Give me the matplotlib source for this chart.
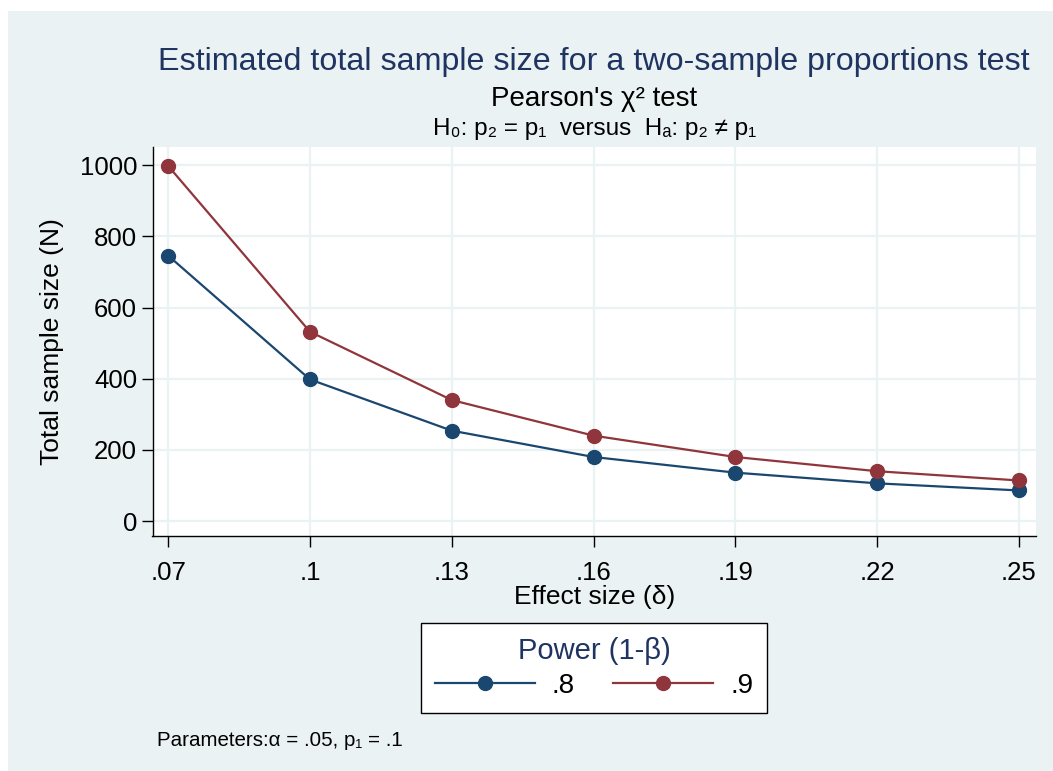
import matplotlib
matplotlib.use("Agg")
import matplotlib.pyplot as plt
from matplotlib.patches import Rectangle

plt.rcParams['font.family'] = ['Liberation Sans', 'DejaVu Sans']

# effect size (delta) and total sample size for each power level
delta = [0.07, 0.10, 0.13, 0.16, 0.19, 0.22, 0.25]
delta_labels = [".07", ".1", ".13", ".16", ".19", ".22", ".25"]
n_power_08 = [746, 398, 254, 180, 136, 106, 86]
n_power_09 = [998, 532, 340, 240, 180, 140, 114]
y_ticks = [0, 200, 400, 600, 800, 1000]
series_labels = [".8", ".9"]

BG = "#eaf2f3"
NAVY = "#1a476f"
MAROON = "#90353b"
TITLE_COL = "#1f3461"

W, H = 1053, 771
fig = plt.figure(figsize=(W / 100, H / 100), dpi=100)
fig.patch.set_facecolor("white")
# outer graph region (white strip on top and left)
fig.patches.append(Rectangle((8 / W, 0), 1 - 8 / W, 1 - 11 / H,
                             transform=fig.transFigure, facecolor=BG,
                             edgecolor="none", zorder=-10))

left, right = 152.5 / W, 1036 / W
bottom, top = 1 - 536 / H, 1 - 147 / H
ax = fig.add_axes([left, bottom, right - left, top - bottom])
ax.set_facecolor("white")

ax.plot(delta, n_power_08, color=NAVY, lw=1.6, marker="o", ms=10,
        label=series_labels[0], zorder=3)
ax.plot(delta, n_power_09, color=MAROON, lw=1.6, marker="o", ms=10,
        label=series_labels[1], zorder=3)

ax.set_xlim(0.0667, 0.2536)
ax.set_ylim(-42, 1051)
ax.set_xticks(delta)
ax.set_xticklabels(delta_labels)
ax.set_yticks(y_ticks)
ax.tick_params(axis="both", labelsize=18.5, length=8, width=1, color="black")
ax.tick_params(axis="y", pad=3)
ax.tick_params(axis="x", pad=10)
ax.grid(True, color=BG, lw=1.6, zorder=0)
ax.set_axisbelow(True)
for side in ("top", "right"):
    ax.spines[side].set_visible(False)
for side in ("left", "bottom"):
    ax.spines[side].set_linewidth(1)

ax.set_ylabel("Total sample size (N)", fontsize=19, labelpad=11)
ax.set_xlabel("Effect size (δ)", fontsize=19, labelpad=0)

cx = (left + right) / 2
fig.text(cx, 1 - 62 / H, "Estimated total sample size for a two-sample proportions test",
         ha="center", va="center", fontsize=23.2, color=TITLE_COL)
fig.text(cx, 1 - 99 / H, "Pearson's χ² test", ha="center", va="center",
         fontsize=20, color="black")
fig.text(cx, 1 - 129 / H, "H₀: p₂ = p₁  versus  Hₐ: p₂ ≠ p₁", ha="center",
         va="center", fontsize=17.5, color="black")

leg = ax.legend(loc="center", bbox_to_anchor=(594 / W, 1 - 668 / H),
                bbox_transform=fig.transFigure, ncol=2, numpoints=1,
                title="Power (1-β)", fontsize=20, title_fontsize=21,
                frameon=True, fancybox=False, edgecolor="black",
                handlelength=3.6, columnspacing=1.4, handletextpad=0.6,
                borderpad=0.5, borderaxespad=0, labelspacing=0.3)
leg.get_title().set_color(TITLE_COL)
leg.get_frame().set_linewidth(1)
leg.get_frame().set_facecolor("white")
leg.get_frame().set_alpha(1)

fig.text(157 / W, 1 - 741 / H, "Parameters:α = .05, p₁ = .1", ha="left",
         va="center", fontsize=14.8, color="black")

fig.savefig("out.png", dpi=100, facecolor=fig.get_facecolor())
